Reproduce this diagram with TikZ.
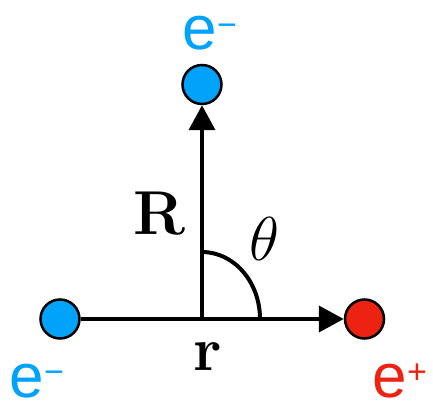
\documentclass[tikz,border=0pt]{standalone}
\usepackage{fix-cm}
\usepackage{fontspec}
\newfontfamily\labelfont{Liberation Sans}
\usepackage{tikz}
\usetikzlibrary{arrows.meta, positioning}
\definecolor{ElecBlue}{RGB}{0, 162, 250}
\definecolor{PosRed}{RGB}{236, 34, 18}
\DeclareMathSizes{62}{62}{43}{31}
\newcommand{\charge}[1]{\raisebox{13pt}{\fontsize{34}{34}\selectfont #1}}

\begin{document}
\begin{tikzpicture}[x=1pt, y=1pt, particle/.style={circle, draw=black, line width=2.5pt, minimum size=39pt, inner sep=0pt},
  elec/.style={particle, fill=ElecBlue}, posi/.style={particle, fill=PosRed},
  plabel/.style={font=\fontsize{62}{62}\selectfont\labelfont, anchor=base west, inner sep=0pt},
  sym/.style={font=\fontsize{62}{62}\selectfont, inner sep=0pt},
  ar/.style={-{Triangle[length=25pt, width=26pt]}, line width=4pt}]
\useasboundingbox (0,0) rectangle (433,401);
\coordinate (o) at (202,82);
\node[elec] (eL) at (60,82) {};
\node[posi] (eP) at (364.5,82) {};
\node[elec] (eT) at (202,316.5) {};
\node[plabel, text=ElecBlue] (lT) at (182.5,351) {e\charge{\char"2212}};
\node[plabel, text=ElecBlue] (lL) at (9.5,4) {e\charge{\char"2212}};
\node[plabel, text=PosRed] (lP) at (372.5,4) {e\charge{+}};
\node[sym] (R) at (160,187) {\textbf{R}};
\node[sym] (r) at (208,44) {\textbf{r}};
\node[sym] (th) at (264,162) {$\theta$};
\draw[ar] (eL) -- (eP);
\draw[ar] (o) -- (eT);
\draw[line width=4pt] (o) ++(0,67) arc[start angle=90, end angle=0, x radius=58, y radius=67];
\end{tikzpicture}
\end{document}
